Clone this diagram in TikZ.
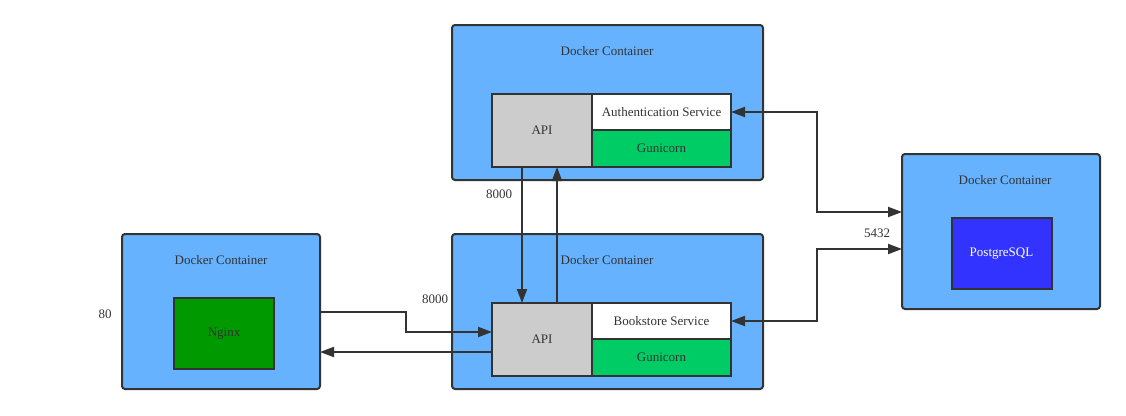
\documentclass[tikz,border=0pt]{standalone}
\usepackage{fontspec}
\setmainfont{Liberation Serif}
\usetikzlibrary{arrows.meta}
\definecolor{dockblue}{HTML}{66B2FF}
\definecolor{apigray}{HTML}{CCCCCC}
\definecolor{gunigreen}{HTML}{00CC66}
\definecolor{nginxgreen}{HTML}{009900}
\definecolor{pgblue}{HTML}{3333FF}
\definecolor{ink}{HTML}{333333}
\begin{document}
\begin{tikzpicture}[x=1pt, y=-1pt, line width=2pt, >={Triangle[length=14pt,width=10pt]},
        every node/.style = {font=\rmfamily\fontsize{13}{15}\selectfont, text=ink, outer sep=0pt},
        dock/.style = {draw=ink, fill=dockblue, rounded corners=3pt, minimum width=311pt, minimum height=155pt},
        smalldock/.style = {dock, minimum width=198pt},
        inner/.style = {draw=ink, minimum width=100pt, minimum height=73pt},
        half/.style = {draw=ink, minimum width=139pt, minimum height=36.5pt},
        link/.style = {draw=ink, line width=2pt}]
        \useasboundingbox (0,0) rectangle (1126,415);

        % containers
        \node[dock] (authdock) at (607.5,102.5) {};
        \node[dock] (bookdock) at (607.5,311.5) {};
        \node[smalldock] (nginxdock) at (221,311.5) {};
        \node[smalldock] (pgdock) at (1001,231.5) {};

        \node (authtitle) at (607,51) {Docker Container};
        \node (booktitle) at (607,260) {Docker Container};
        \node (nginxtitle) at (221,260) {Docker Container};
        \node (pgtitle) at (1005,180) {Docker Container};

        % authentication service
        \node[inner, fill=apigray] (authapi) at (542,130.5) {API};
        \node[half, fill=white] (authsvc) at (661.5,112) {Authentication Service};
        \node[half, fill=gunigreen] (authgun) at (661.5,148.5) {Gunicorn};

        % bookstore service
        \node[inner, fill=apigray] (bookapi) at (542,339.5) {API};
        \node[half, fill=white] (booksvc) at (661.5,321) {Bookstore Service};
        \node[half, fill=gunigreen] (bookgun) at (661.5,357.5) {Gunicorn};

        % nginx and postgres
        \node[inner, fill=nginxgreen, minimum height=71pt] (nginx) at (224,333.5) {Nginx};
        \node[inner, fill=pgblue, text=white, minimum height=71pt] (pg) at (1001.5,253.5) {PostgreSQL};

        % ports
        \node (p80) at (105,314) {80};
        \node (p8000a) at (499,194) {8000};
        \node (p8000b) at (435,299) {8000};
        \node (p5432) at (877,233) {5432};

        \draw[->, link] ([xshift=30pt]authapi.south west) -- ([xshift=30pt]bookapi.north west);
        \draw[->, link] ([xshift=65pt]bookapi.north west) -- ([xshift=65pt]authapi.south west);
        \draw[->, link] (nginxdock.east) -- (406,311.5) -- (406,332) -- ([yshift=7.5pt]bookapi.west);
        \draw[->, link] ([yshift=-12.5pt]bookapi.west) -- ([yshift=-40.5pt]nginxdock.east);
        \draw[<->, link] (authsvc.east) -- (817,112) -- (817,212) -- ([yshift=19.5pt]pgdock.west);
        \draw[<->, link] (booksvc.east) -- (817,321) -- (817,249) -- ([yshift=-17.5pt]pgdock.west);
    \end{tikzpicture}
\end{document}
